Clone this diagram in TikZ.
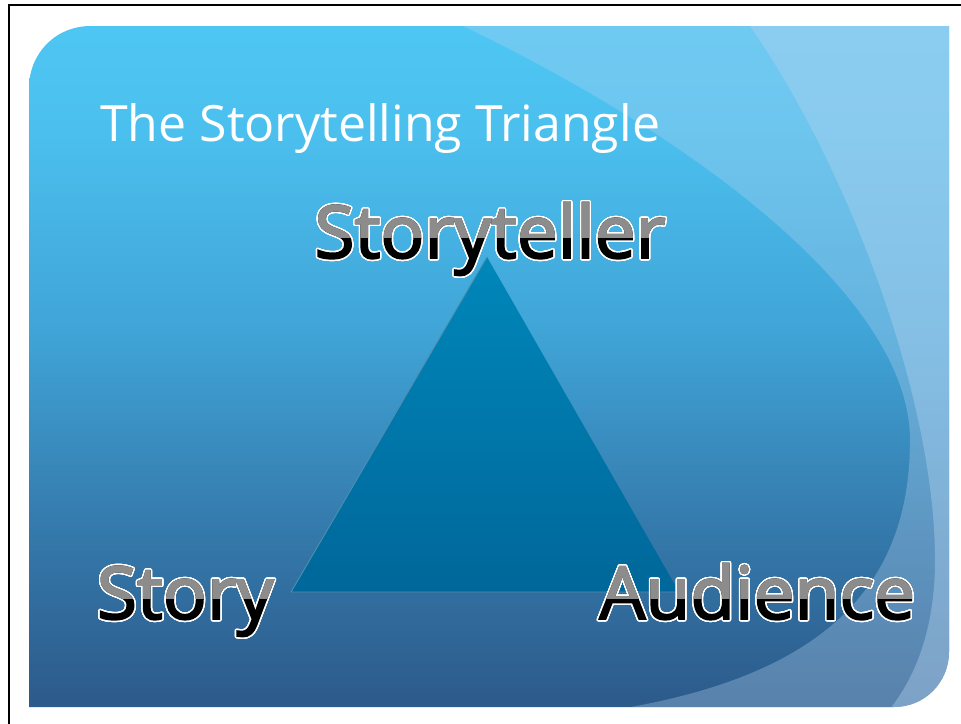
\documentclass[tikz,border=0pt]{standalone}
\usepackage{fontspec}
\setmainfont{Open Sans}
\newfontfamily\labelface{Open Sans}[FakeBold=2.5]
\usepackage{contour}
\contourlength{1.5pt}
\contournumber{32}

\definecolor{bgtop}{HTML}{4EC6F3}
\definecolor{bghigh}{HTML}{4BC0EE}
\definecolor{bgmid}{HTML}{40A4D7}
\definecolor{bglow}{HTML}{3478AA}
\definecolor{bgbot}{HTML}{2C5A8A}
\definecolor{swoosh}{HTML}{B4D3F0}
\definecolor{tritop}{HTML}{0087BA}
\definecolor{tribot}{HTML}{00679A}
\definecolor{triedge}{HTML}{4F8FAE}
\definecolor{sheengrey}{HTML}{8C8C8C}

% slide background: light cyan at the top, deep blue at the bottom
% (TikZ fits the band 25bp..75bp of a shading to the path)
\pgfdeclareverticalshading{slidebg}{100bp}{%
  color(0bp)=(bgbot); color(25bp)=(bgbot); color(37.5bp)=(bglow);
  color(52.5bp)=(bgmid); color(67.5bp)=(bghigh); color(75bp)=(bgtop);
  color(100bp)=(bgtop)}
\pgfdeclareverticalshading{trifill}{100bp}{%
  color(0bp)=(tribot); color(25bp)=(tribot); color(75bp)=(tritop);
  color(100bp)=(tritop)}

\begin{document}
\begin{tikzpicture}[x=1pt,y=-1pt,
  lbl/.style={inner sep=0pt, outer sep=0pt,
    font=\labelface\fontsize{73}{80}\selectfont},
  sheen/.style={lbl, text=sheengrey},
  frame/.style={line width=2pt, black}]

\useasboundingbox (0,0) rectangle (961,723);
\fill[white] (0,0) rectangle (961,723);

% page frame (left and top edges)
\draw[frame] (9,760) -- (9,5) -- (1000,5);

% slide with rounded top-left and bottom-right corners
\def\slidepath{(29,707) -- (29,88) .. controls (29,54) and (55,26) .. (91,26)
  -- (949,26) -- (949,652) .. controls (949,682) and (925,707) .. (894,707) -- cycle}
\shade[shading=slidebg] \slidepath;

\begin{scope}
  \clip \slidepath;
  % wide light band on the right
  \fill[swoosh, opacity=0.33]
    (463,26) .. controls (700,140) and (910,300) .. (910,440)
    .. controls (910,590) and (820,680) .. (600,712)
    -- (1000,760) -- (1000,0) -- (463,0) -- cycle;
  % narrower, lighter band at the far right
  \fill[swoosh, opacity=0.4]
    (750,26) .. controls (850,170) and (935,400) .. (935,560)
    .. controls (935,630) and (915,680) .. (885,715)
    -- (1000,760) -- (1000,0) -- (750,0) -- cycle;
\end{scope}

% the triangle
\coordinate (apex) at (487,257);
\coordinate (left) at (291,592);
\coordinate (right) at (679,592);
\shade[shading=trifill] (apex) -- (right) -- (left) -- cycle;
\draw[triedge, line width=0.9pt, line join=round] (apex) -- (left) -- (right);

% title
\node[anchor=base west, inner sep=0pt, text=white,
      font=\fontsize{50}{60}\selectfont] (title) at (100,141) {The Storytelling Triangle};

% corner labels: black letters with a white rim
\node[lbl, anchor=base] (storyteller) at (490,258) {\contour{white}{Storyteller}};
\node[lbl, anchor=base west] (story) at (97,619) {\contour{white}{Story}};
\node[lbl, anchor=base east] (audience) at (915,619) {\contour{white}{Audience}};

% grey sheen over the upper part of the letters
\begin{scope}
  \clip (0,150) rectangle (961,237);
  \node[sheen, anchor=base] (storyteller-sheen) at (490,258) {Storyteller};
\end{scope}
\begin{scope}
  \clip (0,520) rectangle (961,598);
  \node[sheen, anchor=base west] (story-sheen) at (97,619) {Story};
  \node[sheen, anchor=base east] (audience-sheen) at (915,619) {Audience};
\end{scope}

\end{tikzpicture}
\end{document}
